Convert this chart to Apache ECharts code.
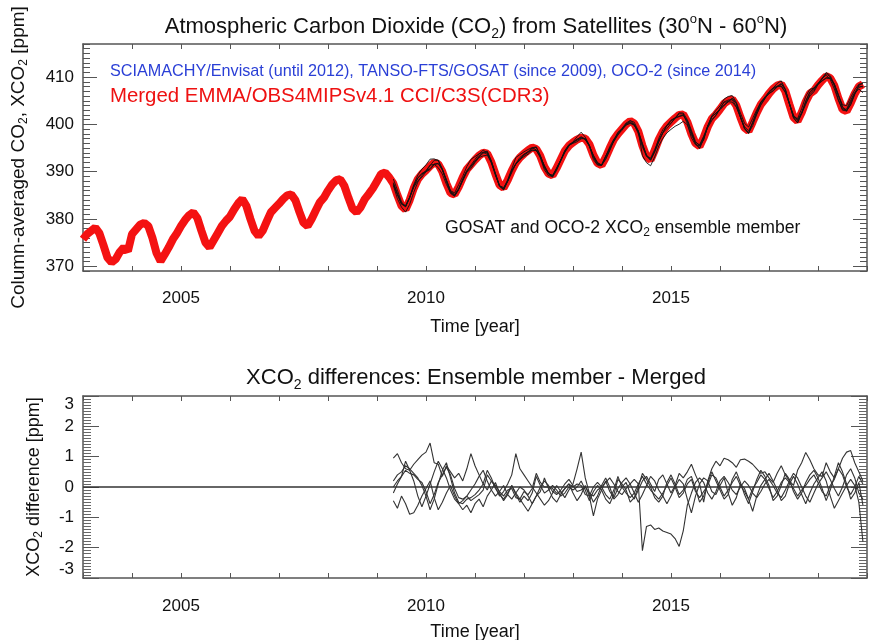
<!DOCTYPE html>
<html><head><meta charset="utf-8">
<script src="https://cdn.jsdelivr.net/npm/echarts@6/dist/echarts.min.js"></script>
<style>html,body{margin:0;padding:0;background:#fff}#c{width:874px;height:640px}</style>
</head><body><div id="c"></div>
<script>
// ---- data (monthly, Jan 2003 .. Dec 2018) ----
const startYear = 2003;
const merged = [
 375.7,376.8,377.5,378.2,377.0,374.5,371.8,370.8,371.5,373.0,374.0,373.2, // 2003
 376.8,377.8,378.8,379.2,378.5,376.0,372.8,371.1,372.5,374.0,375.7,377.0, // 2004
 378.5,379.8,380.8,381.4,380.2,377.5,375.0,374.0,375.5,377.0,378.5,379.6, // 2005
 380.5,382.0,383.3,384.2,382.8,380.0,377.5,376.4,377.5,379.5,381.4,382.3, // 2006
 383.2,384.2,385.0,385.2,384.0,381.5,379.2,378.5,380.0,381.8,383.5,384.5, // 2007
 386.0,387.3,388.2,388.4,387.0,384.5,382.2,381.4,382.5,384.2,385.3,386.5, // 2008
 388.0,389.5,389.8,388.8,387.5,385.0,382.8,382.0,384.0,386.5,388.4,389.5, // 2009
 390.3,391.2,391.9,391.6,390.0,387.5,385.5,385.2,386.8,388.8,390.5,391.5, // 2010
 392.5,393.4,394.0,393.8,392.0,389.5,387.2,386.6,388.2,390.2,391.9,393.0, // 2011
 393.8,394.5,395.1,394.8,393.3,391.0,389.6,389.2,390.8,392.6,394.4,395.5, // 2012
 396.2,396.8,397.2,397.0,395.8,393.5,391.8,391.4,393.0,395.0,396.8,398.0, // 2013
 399.0,400.0,400.7,400.2,398.5,395.5,393.2,392.5,394.5,396.8,398.5,399.7, // 2014
 400.5,401.3,402.0,402.1,400.5,398.0,396.0,395.4,397.2,399.5,401.2,402.1, // 2015
 403.2,404.4,405.0,405.3,404.0,401.5,399.3,398.6,400.5,402.5,404.2,405.3, // 2016
 406.5,407.5,408.2,408.5,407.0,404.2,401.5,400.7,402.5,404.8,406.5,407.1, // 2017
 408.3,409.3,410.2,409.8,408.2,405.5,403.2,402.8,404.5,406.5,408.0,408.5  // 2018
];
// ensemble members: difference to merged, May 2009 .. Dec 2018
const memberStart = 76; // index of May 2009 in merged
const member1 = [
 0.95,1.10,0.80,0.60,0.55,0.75,0.90,1.05,
 1.15,1.45,0.80,0.75,0.35,0.70,0.50,0.30,0.45,0.20,0.60,1.10,
 0.70,0.40,0.10,-0.10,0.20,0.00,-0.30,-0.15,0.10,0.40,1.10,0.60,
 0.40,0.20,0.00,-0.20,-0.40,-0.60,-0.45,-0.20,0.05,-0.15,-0.35,-0.10,
 0.10,0.60,1.15,0.30,-0.20,-0.50,-0.30,0.05,0.30,0.00,-0.40,-0.25,
 0.00,0.15,-0.20,-0.40,-0.10,0.20,0.35,0.10,-0.15,0.25,0.40,0.10,
 -0.20,0.05,0.45,0.30,0.50,0.75,0.40,0.10,-0.50,0.20,0.60,0.85,
 0.70,0.95,0.90,0.80,0.65,0.90,0.92,0.85,0.75,0.60,0.45,0.50,
 0.30,0.15,0.45,0.70,0.40,0.20,0.05,0.55,0.80,1.14,0.90,0.60,
 0.40,0.35,0.80,0.50,0.30,0.60,0.95,1.15,1.20,0.80,0.50,0.20
];
const member2 = [
 -0.45,-0.70,-0.30,-0.55,-0.90,-0.85,-0.60,-0.30,
 -0.05,0.20,-0.35,-0.75,-0.50,-0.20,0.05,-0.30,-0.55,-0.75,-0.60,-0.85,
 -0.55,-0.40,-0.65,-0.30,-0.10,0.15,-0.20,-0.45,-0.25,0.05,-0.20,-0.40,
 -0.60,-0.80,-0.55,-0.30,-0.15,0.30,-0.05,-0.35,-0.50,-0.25,-0.05,0.10,
 -0.20,-0.45,-0.25,0.05,-0.30,-0.95,-0.40,-0.10,0.20,-0.15,-0.35,-0.05,
 0.15,0.30,0.10,-0.20,-0.50,-0.25,0.05,0.35,0.20,-0.10,-0.30,-0.55,
 -0.30,0.00,0.25,0.10,-0.40,-0.85,-0.30,0.10,0.30,0.20,-0.15,-0.25,
 0.05,0.30,-0.20,-0.60,-0.35,0.10,-0.05,-0.40,-0.80,-0.30,0.05,0.25,
 0.45,0.20,-0.10,-0.45,-0.30,0.10,0.35,0.10,-0.25,-0.55,-0.20,0.10,
 0.30,0.50,0.20,-0.30,-0.70,-0.45,-0.20,0.05,0.25,0.05,-0.50,-1.80
];
const member3 = [
 -0.20,0.10,0.35,0.85,0.55,0.20,-0.30,-0.65,
 -0.30,0.10,0.50,0.85,0.60,0.30,-0.10,-0.40,-0.55,-0.45,-0.30,-0.10,
 0.10,0.35,0.55,0.20,-0.10,-0.30,-0.15,0.05,-0.25,-0.40,-0.20,0.00,
 -0.10,-0.30,-0.55,-0.30,0.00,0.20,0.05,-0.15,-0.25,-0.10,0.10,0.25,
 0.05,-0.15,-0.10,0.00,-0.20,-0.30,-0.10,0.00,0.15,0.30,0.10,-0.15,
 -0.25,-0.05,0.10,0.25,0.10,-2.10,-1.30,-1.25,-1.40,-1.35,-1.45,-1.50,
 -1.55,-1.70,-1.96,-1.45,-0.60,-0.20,0.15,0.30,0.15,-0.20,-0.40,-0.15,
 0.20,0.35,0.15,-0.10,-0.25,0.00,0.20,0.05,-0.20,-0.35,-0.15,0.10,
 0.25,0.05,-0.20,-0.35,-0.10,0.20,0.45,0.30,0.00,-0.30,-0.50,-0.20,
 0.10,0.30,0.50,0.25,-0.05,-0.30,0.00,0.40,0.60,0.30,-0.20,-0.40
];
const member4 = [
 0.20,0.40,0.50,0.70,0.60,0.45,0.30,0.05,
 -0.30,-0.75,-0.40,0.10,0.55,0.80,0.30,-0.20,-0.50,-0.55,-0.40,-0.35,
 -0.25,-0.10,0.10,0.55,0.30,-0.05,-0.25,-0.40,-0.20,0.05,-0.25,-0.50,
 -0.30,-0.45,-0.20,0.35,0.05,-0.20,-0.10,0.05,-0.10,-0.30,-0.20,0.00,
 -0.10,0.00,0.20,-0.10,-0.45,-0.15,0.05,-0.10,-0.40,-0.55,-0.25,0.25,
 0.10,-0.10,-0.50,-0.35,0.00,0.45,0.25,0.00,-0.35,-0.50,-0.30,0.15,
 0.40,0.10,-0.25,-0.10,0.25,0.35,-0.05,-0.50,-0.30,0.15,0.50,0.20,
 -0.10,-0.40,-0.25,0.25,0.50,0.15,-0.25,-0.55,-0.15,0.25,0.55,0.35,
 0.05,-0.45,-0.30,0.05,0.45,0.25,-0.15,-0.40,-0.20,0.15,0.40,0.55,
 0.30,-0.05,-0.45,-0.10,0.35,0.80,0.50,0.10,-0.40,-0.20,0.15,-0.60
];
const member5 = [
 0.00,0.20,0.35,0.55,0.45,0.40,0.25,0.15,
 -0.15,-0.55,-0.25,0.15,0.40,0.65,0.40,-0.05,-0.35,-0.40,-0.30,-0.45,
 -0.35,-0.25,-0.10,0.40,0.20,0.05,-0.15,-0.30,-0.10,-0.05,-0.35,-0.40,
 -0.15,-0.25,-0.05,0.45,0.15,0.00,0.00,-0.05,-0.20,-0.20,-0.05,0.10,
 0.00,0.10,0.05,-0.25,-0.30,0.00,0.15,0.00,-0.25,-0.40,-0.10,0.35,
 0.00,-0.20,-0.35,-0.20,0.10,0.35,0.10,-0.10,-0.25,-0.40,-0.20,0.05,
 0.30,0.00,-0.35,-0.20,0.10,0.25,-0.15,-0.35,-0.15,0.05,0.40,0.30,
 0.00,-0.30,-0.10,0.15,0.35,0.05,-0.15,-0.40,-0.05,0.15,0.40,0.25,
 -0.05,-0.35,-0.15,0.15,0.30,0.15,-0.05,-0.30,-0.10,0.05,0.25,0.40,
 0.15,-0.15,-0.30,0.05,0.25,0.60,0.40,0.00,-0.25,0.00,0.35,0.10
];
const members = [member1, member2, member3, member4, member5];
const xLabelYears = [2005, 2010, 2015];
const yTopLabels = [370, 380, 390, 400, 410];
const yBottomLabels = [-3, -2, -1, 0, 1, 2, 3];

// ---- build series ----
const tOf = i => startYear + i / 12;
const mergedData = merged.map((v, i) => [tOf(i), v]);
const FONT = '"Liberation Sans", Arial, Helvetica, sans-serif';
const series = [{
  type: 'line', xAxisIndex: 0, yAxisIndex: 0, data: mergedData, showSymbol: false, symbol: 'none',
  lineStyle: { color: '#f41212', width: 8 }, z: 2
}];
members.forEach(m => {
  series.push({
    type: 'line', xAxisIndex: 0, yAxisIndex: 0, symbol: 'none', z: 3,
    data: m.map((d, k) => [tOf(memberStart + k), +(merged[memberStart + k] + d).toFixed(2)]),
    lineStyle: { color: '#111', width: 0.9 }
  });
});
members.forEach((m, j) => {
  const s = {
    type: 'line', xAxisIndex: 2, yAxisIndex: 4, symbol: 'none',
    data: m.map((d, k) => [tOf(memberStart + k), d]),
    lineStyle: { color: '#333', width: 1.1 }
  };
  if (j === 0) s.markLine = { silent: true, symbol: 'none', label: { show: false },
    lineStyle: { color: '#333', width: 1.6, type: 'solid' }, data: [{ yAxis: 0 }] };
  series.push(s);
});

const axisLineC = { show: true, onZero: false, lineStyle: { color: '#555', width: 1.5 } };
function xAx(grid, pos, labels, margin, gap) {
  return {
    type: 'value', gridIndex: grid, position: pos, min: 2003, max: 2019, interval: 1,
    axisLine: axisLineC, splitLine: { show: false },
    axisTick: { inside: true, length: 5, lineStyle: { color: '#555' } },
    axisLabel: labels ? { show: true, margin: margin, fontSize: 17, color: '#111', fontFamily: FONT,
      formatter: v => xLabelYears.includes(v) ? String(v) : '' } : { show: false },
    name: labels ? 'Time [year]' : '', nameLocation: 'middle', nameGap: gap || 0,
    nameTextStyle: { fontSize: 18, color: '#111', fontFamily: FONT }
  };
}
const subRich = {
  s: { fontSize: 12, verticalAlign: 'bottom', lineHeight: 12, fontFamily: FONT, color: '#111' },
};
const option = {
  animation: false,
  backgroundColor: '#fff',
  textStyle: { fontFamily: FONT },
  grid: [
    { left: 83, right: 7, top: 44, height: 227, outerBoundsMode: 'none', containLabel: false },
    { left: 83, right: 7, top: 396, height: 182, outerBoundsMode: 'none', containLabel: false }
  ],
  xAxis: [xAx(0, 'bottom', true, 19, 47), xAx(0, 'top', false), xAx(1, 'bottom', true, 20, 45), xAx(1, 'top', false)],
  yAxis: [
    { type: 'value', gridIndex: 0, position: 'left', min: 369, max: 417, interval: 1,
      axisLine: axisLineC, splitLine: { show: false },
      axisTick: { inside: true, length: 7, lineStyle: { color: '#555' } },
      axisLabel: { margin: 9, fontSize: 17, color: '#111', fontFamily: FONT,
        formatter: v => yTopLabels.includes(v) ? String(v) : '' },
      name: 'Column-averaged CO{s|2}, XCO{s|2} [ppm]', nameLocation: 'middle', nameGap: 53,
      nameTextStyle: { fontSize: 19, color: '#111', fontFamily: FONT, lineHeight: 22, rich: subRich } },
    { type: 'value', gridIndex: 0, position: 'left', min: 369, max: 417,
      axisLine: { show: false, onZero: false }, splitLine: { show: false }, axisLabel: { show: false },
      axisTick: { show: true, inside: true, length: 14, customValues: yTopLabels, lineStyle: { color: '#555' } } },
    { type: 'value', gridIndex: 0, position: 'right', min: 369, max: 417, interval: 1,
      axisLine: axisLineC, splitLine: { show: false }, axisLabel: { show: false },
      axisTick: { inside: true, length: 7, lineStyle: { color: '#555' } } },
    { type: 'value', gridIndex: 0, position: 'right', min: 369, max: 417,
      axisLine: { show: false, onZero: false }, splitLine: { show: false }, axisLabel: { show: false },
      axisTick: { show: true, inside: true, length: 14, customValues: yTopLabels, lineStyle: { color: '#555' } } },
    { type: 'value', gridIndex: 1, position: 'left', min: -3, max: 3, interval: 1,
      axisLine: axisLineC, splitLine: { show: false },
      axisTick: { inside: true, length: 16, lineStyle: { color: '#555' } },
      minorTick: { show: true, splitNumber: 10, length: 8, lineStyle: { color: '#666' } },
      axisLabel: { margin: 9, fontSize: 17, color: '#111', fontFamily: FONT,
        formatter: v => yBottomLabels.includes(v) ? String(v) : '',
        verticalAlignMaxLabel: 'top', verticalAlignMinLabel: 'bottom' },
      name: 'XCO{s|2} difference [ppm]', nameLocation: 'middle', nameGap: 38,
      nameTextStyle: { fontSize: 18, color: '#111', fontFamily: FONT, lineHeight: 22, rich: subRich } },
    { type: 'value', gridIndex: 1, position: 'right', min: -3, max: 3, interval: 1,
      axisLine: axisLineC, splitLine: { show: false }, axisLabel: { show: false },
      axisTick: { inside: true, length: 16, lineStyle: { color: '#555' } },
      minorTick: { show: true, splitNumber: 10, length: 8, lineStyle: { color: '#666' } } }
  ],
  graphic: [
    { type: 'text', x: 476, y: 27, style: {
      text: 'Atmospheric Carbon Dioxide (CO{s|2}) from Satellites (30{o|o}N - 60{o|o}N)',
      fontSize: 22, fontFamily: FONT, fill: '#111', align: 'center', verticalAlign: 'middle', lineHeight: 28,
      rich: { s: { fontSize: 14, verticalAlign: 'bottom', lineHeight: 14, fontFamily: FONT, fill: '#111' },
              o: { fontSize: 13, verticalAlign: 'top', lineHeight: 13, fontFamily: FONT, fill: '#111' } } } },
    { type: 'text', x: 476, y: 378, style: {
      text: 'XCO{s|2} differences: Ensemble member - Merged',
      fontSize: 22, fontFamily: FONT, fill: '#111', align: 'center', verticalAlign: 'middle', lineHeight: 28,
      rich: { s: { fontSize: 14, verticalAlign: 'bottom', lineHeight: 14, fontFamily: FONT, fill: '#111' } } } },
    { type: 'text', x: 110, y: 72, style: {
      text: 'SCIAMACHY/Envisat (until 2012), TANSO-FTS/GOSAT (since 2009), OCO-2 (since 2014)',
      fontSize: 16.2, fontFamily: FONT, fill: '#2a3fd6', align: 'left', verticalAlign: 'middle' } },
    { type: 'text', x: 110, y: 96, style: {
      text: 'Merged EMMA/OBS4MIPSv4.1 CCI/C3S(CDR3)',
      fontSize: 20.4, fontFamily: FONT, fill: '#ee1111', align: 'left', verticalAlign: 'middle' } },
    { type: 'text', x: 445, y: 228, style: {
      text: 'GOSAT and OCO-2 XCO{s|2} ensemble member',
      fontSize: 17.6, fontFamily: FONT, fill: '#111', align: 'left', verticalAlign: 'middle', lineHeight: 22,
      rich: { s: { fontSize: 12, verticalAlign: 'bottom', lineHeight: 12, fontFamily: FONT, fill: '#111' } } } }
  ],
  series: series
};
const chart = echarts.init(document.getElementById('c'), null, { renderer: 'canvas' });
chart.setOption(option);
</script></body></html>
